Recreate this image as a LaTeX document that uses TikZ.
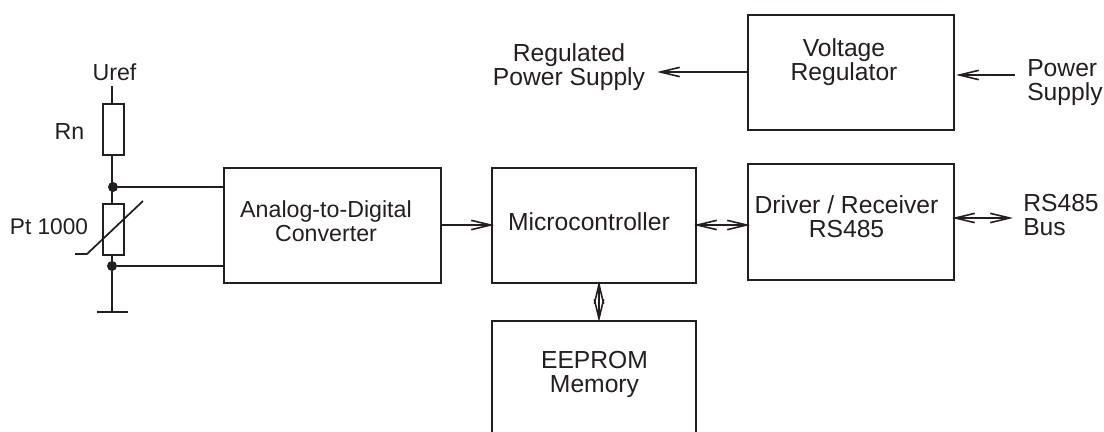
\documentclass[tikz,border=0pt]{standalone}
\usepackage{fontspec}
\setmainfont{Liberation Sans}
\usetikzlibrary{arrows.meta}
\definecolor{ink}{HTML}{231F20}
\tikzset{
  x=0.75pt,y=-0.75pt,
  wire/.style={draw=ink,line width=1.5pt},
  block/.style={wire,fill=white,inner sep=0pt,anchor=north west},
  lbl/.style={text=ink,inner sep=0pt,align=center,font=\fontsize{18.5}{18}\selectfont},
  lblsmall/.style={lbl,font=\fontsize{17.4}{18}\selectfont},
  res/.style={wire,fill=white,inner sep=0pt,anchor=north west,minimum width=15.75pt,minimum height=38.5pt},
  dot/.style={circle,fill=ink,inner sep=0pt,minimum size=7.5pt},
  barb/.tip={Straight Barb[length=14.5pt,width=7pt,line width=1.2pt]},
  sig/.style={draw=ink,line width=1.2pt,-barb},
  bus/.style={draw=ink,line width=1.2pt,barb-barb}
}
\begin{document}
\begin{tikzpicture}
\useasboundingbox (0,0) rectangle (1104,432);
\clip (0,0) rectangle (1104,432);
% blocks
\node[block,minimum width=162.75pt,minimum height=86.25pt] (adc) at (223,167) {};
\node[block,minimum width=153pt,minimum height=86.25pt] (mcu) at (491,167) {};
\node[block,minimum width=154.5pt,minimum height=87pt] (drv) at (747,163) {};
\node[block,minimum width=154.5pt,minimum height=86.25pt] (reg) at (747,14) {};
\node[block,minimum width=153pt,minimum height=93pt] (mem) at (491,320) {};
% block texts
\node[lblsmall] (adct) at (326,221.5) {Analog-to-Digital\\Converter};
\node[lbl] (mcut) at (589,221.5) {Microcontroller};
\node[lbl] (drvt) at (846.5,217) {Driver / Receiver\\RS485};
\node[lbl] (regt) at (844,62) {Voltage\\Regulator};
\node[lbl] (memt) at (594.5,374.5) {EEPROM\\Memory};
% labels
\node[lblsmall] (uref) at (114.5,72) {Uref};
\node[lblsmall] (rn) at (69.5,132) {Rn};
\node[lbl,font=\fontsize{17}{18}\selectfont] (pt) at (49,227) {Pt 1000};
\node[lbl] (rps) at (569,67) {Regulated\\Power Supply};
\node[lbl,align=left,anchor=west] (ps) at (1027,83) {Power\\Supply};
\node[lbl,align=left,anchor=west] (rsb) at (1023,215) {RS485\\Bus};
% circuit
\coordinate (utop) at (112,86);
\node[res] (rnb) at (102,103) {};
\node[dot] (j1) at (113,187) {};
\node[res] (ntc) at (102,203) {};
\node[dot] (j2) at (112,266) {};
\coordinate (gnd) at (112,312);
\coordinate (gl) at (97,312);
\coordinate (gr) at (128,312);
\coordinate (a1) at (223,187);
\coordinate (a2) at (223,266);
\coordinate (d0) at (75,254);
\coordinate (d1) at (87,254);
\coordinate (d2) at (143,201);
\draw[wire] (utop) -- (utop |- rnb.north);
\draw[wire] (utop |- rnb.south) -- (utop |- j1.center);
\draw[wire] (utop |- j1.center) -- (utop |- ntc.north);
\draw[wire] (utop |- ntc.south) -- (utop |- gnd);
\draw[wire] (gl) -- (gr);
\draw[wire] (j1) -- (a1);
\draw[wire] (j2) -- (a2);
\draw[draw=ink,line width=1.3pt] (d0) -- (d1) -- (d2);
% arrows
\coordinate (r1) at (747,72);
\coordinate (r2) at (657,72);
\coordinate (r3) at (1015,75);
\coordinate (r4) at (956,75);
\coordinate (b1) at (952,218);
\coordinate (b2) at (1013,218);
\coordinate (c1) at (440,225);
\coordinate (c2) at (494,225);
\coordinate (c3) at (694,225);
\coordinate (c4) at (750,225);
\coordinate (e1) at (599,281);
\coordinate (e2) at (599,322);
\draw[sig] (r1) -- (r2);
\draw[sig] (r3) -- (r4);
\draw[bus] (b1) -- (b2);
\draw[sig] (c1) -- (c2);
\draw[bus] (c3) -- (c4);
\draw[bus] (e1) -- (e2);
\end{tikzpicture}
\end{document}
